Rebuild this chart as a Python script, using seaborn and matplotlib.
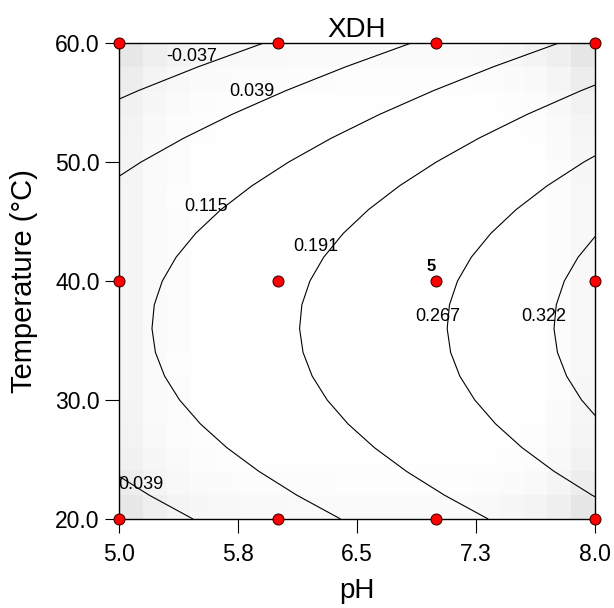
import numpy as np
import pandas as pd
import matplotlib
matplotlib.use("Agg")
import matplotlib.pyplot as plt
from matplotlib.colors import LinearSegmentedColormap
import seaborn as sns

# ---------------- data ----------------
title = "XDH"
x_label = "pH"
y_label = "Temperature (°C)"
x_ticks = [5.0, 5.75, 6.5, 7.25, 8.0]
x_tick_labels = ["5.0", "5.8", "6.5", "7.3", "8.0"]
y_ticks = [20, 30, 40, 50, 60]
y_tick_labels = ["20.0", "30.0", "40.0", "50.0", "60.0"]

# design points (red dots) and replicate counts
design_ph = [5, 6, 7, 8, 5, 6, 7, 8, 5, 6, 7, 8]
design_temp = [60, 60, 60, 60, 40, 40, 40, 40, 20, 20, 20, 20]
design_reps = [1, 1, 1, 1, 1, 1, 5, 1, 1, 1, 1, 1]

# fitted response-surface model (estimated from the contours):
# XDH = b0 + b1*pH + b2*T + b3*T^2
model_coef_const = -0.7954
model_coef_ph = 0.0817
model_coef_t = 0.02679
model_coef_t2 = -0.000370

contour_levels = [-0.037, 0.039, 0.115, 0.191, 0.267, 0.322]
contour_label_text = ["-0.037", "0.039", "0.115", "0.191", "0.267", "0.322", "0.039"]
contour_label_ph = [5.46, 5.84, 5.55, 6.24, 7.01, 7.68, 5.14]
contour_label_temp = [58.9, 55.9, 46.3, 42.9, 37.0, 37.0, 22.9]

ph_range = (5.0, 8.0)
temp_range = (20.0, 60.0)
grid_n = 21

# ---------------- styling ----------------
sns.set_theme(style="white")
plt.rcParams["font.family"] = ["Liberation Sans", "DejaVu Sans"]
plt.rcParams["axes.edgecolor"] = "black"
plt.rcParams["axes.linewidth"] = 1.0
plt.rcParams["contour.negative_linestyle"] = "solid"

fig = plt.figure(figsize=(6.14, 6.08), dpi=100)
ax = fig.add_axes([119 / 614, 1 - 519 / 608, 476 / 614, 476 / 608])

# ---------------- surface ----------------
ph_g = np.linspace(*ph_range, grid_n)
t_g = np.linspace(*temp_range, grid_n)
PH, T = np.meshgrid(ph_g, t_g)
Z = (model_coef_const + model_coef_ph * PH + model_coef_t * T
     + model_coef_t2 * T ** 2)

# prediction standard-error shading from the design (full quadratic, coded units)
def feats(p, t):
    u = (np.asarray(p, float) - 6.5) / 1.5
    v = (np.asarray(t, float) - 40.0) / 20.0
    return np.stack([np.ones_like(u), u, v, u * u, v * v, u * v], axis=-1)

runs = pd.DataFrame({"pH": design_ph, "T": design_temp, "n": design_reps})
runs = runs.loc[runs.index.repeat(runs["n"])]
X = feats(runs["pH"].values, runs["T"].values)
XtXi = np.linalg.inv(X.T @ X)
nc = 20
pe = np.linspace(*ph_range, nc + 1)
te = np.linspace(*temp_range, nc + 1)
pc = (pe[:-1] + pe[1:]) / 2
tc = (te[:-1] + te[1:]) / 2
PC, TC = np.meshgrid(pc, tc)
F = feats(PC, TC)
V = np.einsum("...i,ij,...j->...", F, XtXi, F)
V = ((V - V.min()) / (V.max() - V.min())) ** 1.7
shade_cmap = LinearSegmentedColormap.from_list("shade", ["#ffffff", "#e6e6e6"])
ax.pcolormesh(pe, te, V, cmap=shade_cmap, shading="flat", zorder=0)

ax.contour(PH, T, Z, levels=contour_levels, colors="black", linewidths=0.8,
           linestyles="solid", zorder=2)

for txt, px, tt in zip(contour_label_text, contour_label_ph, contour_label_temp):
    ax.text(px, tt, txt, ha="center", va="center", fontsize=13, color="black", zorder=3)

# design points
sns.scatterplot(x=design_ph, y=design_temp, ax=ax, color="#ff0000",
                edgecolor="#4a0000", linewidth=0.8, s=62, zorder=5,
                clip_on=False, legend=False)
for p, t, n in zip(design_ph, design_temp, design_reps):
    if n > 1:
        ax.text(p - 0.03, t + 0.6, str(n), ha="center", va="bottom",
                fontsize=12, fontweight="bold", color="black", zorder=6)

ax.set_xlim(*ph_range)
ax.set_ylim(*temp_range)
ax.set_xticks(x_ticks)
ax.set_xticklabels(x_tick_labels)
ax.set_yticks(y_ticks)
ax.set_yticklabels(y_tick_labels)
ax.tick_params(axis="both", direction="out", length=10, width=0.8,
               colors="black", labelsize=16.5,
               bottom=True, left=True, top=False, right=False)
ax.tick_params(axis="x", pad=7)
ax.tick_params(axis="y", pad=4)
for s in ax.spines.values():
    s.set_color("black")
    s.set_linewidth(1.0)

ax.set_xlabel(x_label, fontsize=20, labelpad=9, color="black")
ax.set_ylabel(y_label, fontsize=21, labelpad=12, color="black")
ax.set_title(title, fontsize=20, pad=4, color="black")

fig.savefig("out.png", dpi=100)
